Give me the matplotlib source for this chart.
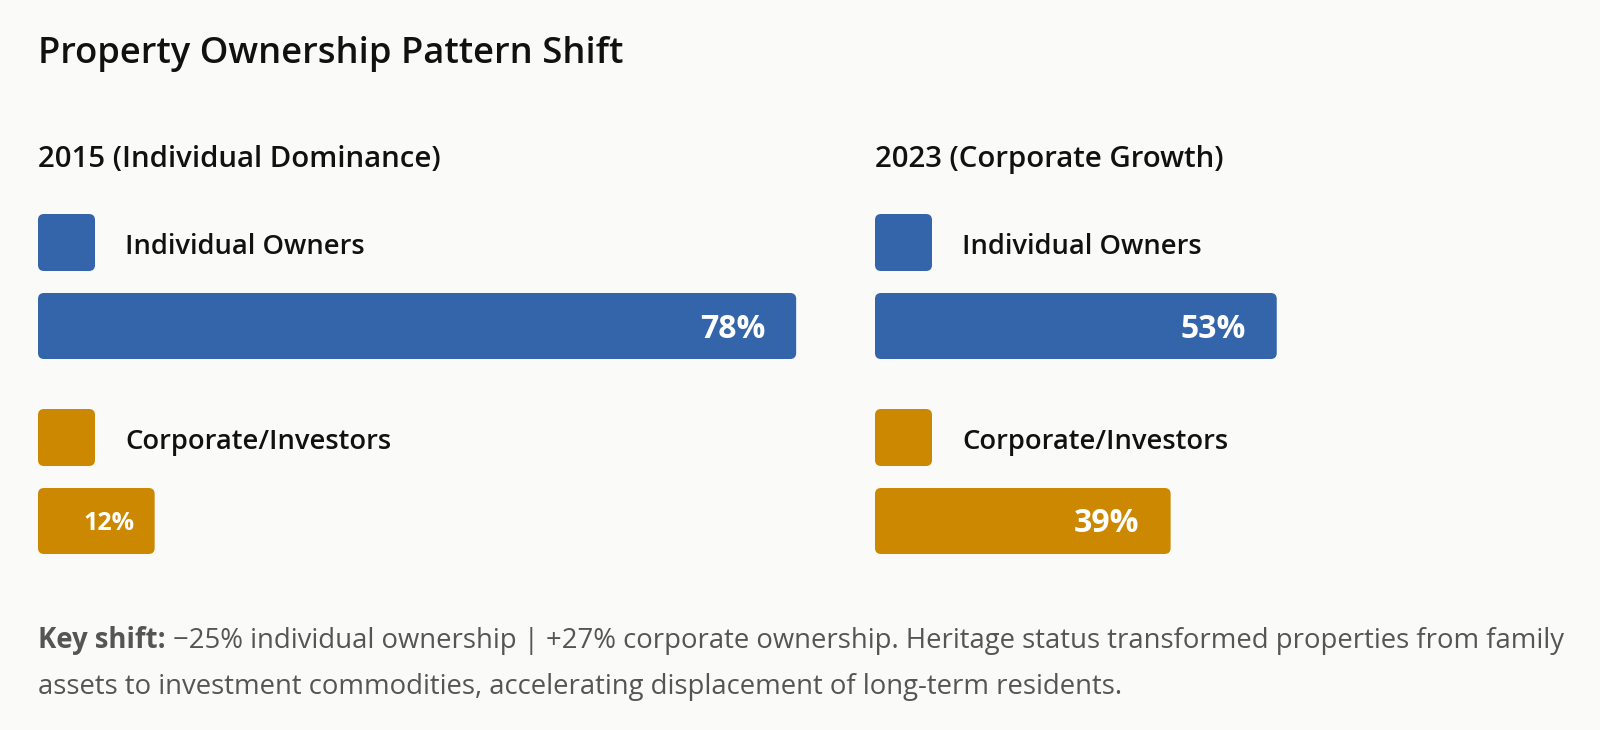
import os
import matplotlib.pyplot as plt
from matplotlib import font_manager as fm
from matplotlib.patches import FancyBboxPatch

### data ###
title = "Property Ownership Pattern Shift"
panel_titles = ["2015 (Individual Dominance)", "2023 (Corporate Growth)"]
groups = ["Individual Owners", "Corporate/Investors"]
shares_2015 = [78, 12]
shares_2023 = [53, 39]
colors = ["#3465AA", "#CC8800"]
note_bold = "Key shift:"
note_lines = ["\u221225% individual ownership | +27% corporate ownership. Heritage status transformed properties from family",
              "assets to investment commodities, accelerating displacement of long-term residents."]


# pick a sans family that really has a bold face
def has_bold(fam):
    try:
        p = fm.findfont(fm.FontProperties(family=fam, weight='bold'), fallback_to_default=False)
    except Exception:
        return False
    return 'bold' in os.path.basename(p).lower()


family = 'DejaVu Sans'
for f in ['Open Sans', 'Noto Sans', 'Lato', 'Roboto', 'Liberation Sans']:
    if has_bold(f):
        family = f
        break
plt.rcParams['font.family'] = [family, 'DejaVu Sans']

W, H = 1600, 730
bg = "#FAFAF9"
fig = plt.figure(figsize=(W / 100, H / 100), dpi=100, facecolor=bg)


def box(x, y, w, h):
    # pixel box, origin top-left -> figure fraction
    return [x / W, 1 - (y + h) / H, w / W, h / H]


# overlay in pixel units for the texts and legend chips
lay = fig.add_axes([0, 0, 1, 1])
lay.set_xlim(0, W)
lay.set_ylim(H, 0)
lay.axis('off')

lay.text(38, 63, title, fontsize=26.2, color="#111111", va='baseline', weight='semibold')

panels = [(38, 972, shares_2015), (875, 758, shares_2023)]
bar_top, bar_bot = 293, 554
bar_h_px = 66
step_px = 195

for (x0, full_w, vals), ptitle in zip(panels, panel_titles):
    lay.text(x0, 167, ptitle, fontsize=21.2, color="#111111", va='baseline', weight='semibold')
    for i, g in enumerate(groups):
        cy = 214 + i * step_px
        lay.add_patch(FancyBboxPatch((x0, cy), 57, 57, boxstyle="round,pad=0,rounding_size=6",
                                     fc=colors[i], ec='none'))
        lay.text(x0 + 87, cy + 40, g, fontsize=19.7, color="#111111", va='baseline', weight='semibold')

    ax = fig.add_axes(box(x0, bar_top, full_w, bar_bot - bar_top))
    ax.set_facecolor('none')
    hb = bar_h_px / step_px
    ax.set_xlim(0, 100)
    ax.set_ylim(len(vals) - 1 + hb / 2, -hb / 2)
    ax.axis('off')
    bars = ax.barh(range(len(vals)), vals, height=hb, color=colors)

    # rounded corners
    xpp = 100 / full_w
    ypp = (len(vals) - 1 + hb) / (bar_bot - bar_top)
    for b in bars:
        fb = FancyBboxPatch((b.get_x(), b.get_y()), b.get_width(), b.get_height(),
                            boxstyle="round,pad=0,rounding_size=%f" % (6 * xpp),
                            mutation_aspect=ypp / xpp, fc=b.get_facecolor(), ec='none')
        b.remove()
        ax.add_patch(fb)

    for i, v in enumerate(vals):
        if v >= 20:
            ax.annotate("%d%%" % v, (v, i), xytext=(-31, -3), textcoords='offset pixels',
                        ha='right', va='center', color='white', fontsize=23, weight='bold')
        else:
            ax.annotate("%d%%" % v, (v, i), xytext=(-20, -3), textcoords='offset pixels',
                        ha='right', va='center', color='white', fontsize=18, weight='bold')

# footer note
t = lay.text(38, 648, note_bold + " ", fontsize=19.8, color="#555555", weight='bold', va='baseline')
fig.canvas.draw()
bb = t.get_window_extent()
lay.text(38 + bb.width, 648, note_lines[0], fontsize=19.8, color="#555555", va='baseline')
lay.text(38, 694, note_lines[1], fontsize=19.8, color="#555555", va='baseline')

fig.savefig("out.png", dpi=100, facecolor=bg)
